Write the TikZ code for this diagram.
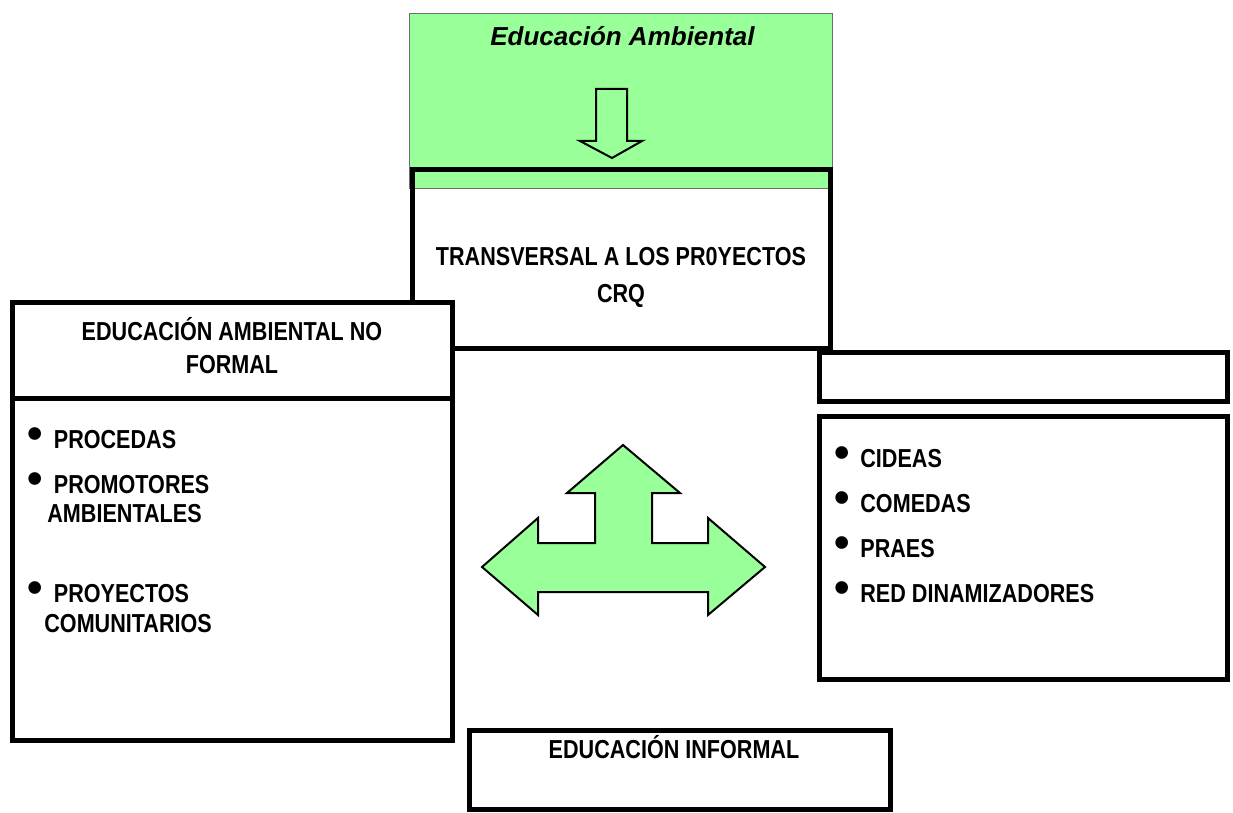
\documentclass[tikz,border=0pt]{standalone}
\usepackage{fontspec}
\setmainfont{Liberation Sans}[FakeStretch=0.83]
\newfontfamily\titlefont{Liberation Sans}
\usepackage{xcolor}
\usepackage{tikz}
\usetikzlibrary{positioning}
\definecolor{eagreen}{RGB}{153,255,153}
\definecolor{eaborder}{RGB}{110,110,110}
\newcommand{\itembul}{\llap{\raisebox{0pt}{\titlefont\fontsize{22}{22}\selectfont\textbullet}\hspace{5.4pt}}}

\begin{document}
\begin{tikzpicture}[x=0.5pt, y=-0.5pt,
  every node/.style={font=\bfseries\fontsize{13}{16.5}\selectfont},
  thickbox/.style={rectangle, draw=black, line width=2.5pt, fill=white, inner sep=0pt},
  openbox/.style={rectangle, draw=black, line width=2.5pt, inner sep=0pt},
  greenbox/.style={rectangle, draw=eaborder, line width=0.5pt, fill=eagreen, inner sep=0pt},
  head/.style={align=center, anchor=base, inner sep=0pt},
  item/.style={anchor=base west, inner sep=0pt},
  bigarrow/.style={draw=black, line width=1pt, fill=eagreen, line join=miter},
]
\useasboundingbox (0,0) rectangle (1233,813);

% top block
\node[greenbox] (ea)    at (620.5,100.75) [minimum width=211.5pt, minimum height=87.5pt] {};
\node[openbox]  (trans) at (621,259) [minimum width=209pt, minimum height=89pt] {};
\node[head, font=\titlefont\bfseries\itshape\fontsize{13}{16}\selectfont] (eatitle) at (622.5,46) {Educación Ambiental};
\node[head, font=\bfseries\fontsize{13}{18.5}\selectfont] (transtxt) at (621,302) {TRANSVERSAL A LOS PR0YECTOS\\CRQ};

% left block
\node[thickbox] (nfhead) at (232.25,350.5) [minimum width=220.25pt, minimum height=48pt] {};
\node[thickbox] (nfbody) at (232.25,569.25) [minimum width=220.25pt, minimum height=170.75pt] {};
\node[head] (nftxt) at (232,373) {EDUCACIÓN AMBIENTAL NO\\FORMAL};
\node[item] (procedas)  at (53.5,448) {\itembul PROCEDAS};
\node[item] (promotor)  at (53.5,493) {\itembul PROMOTORES};
\node[item] (promotor2) at (47,522)   {AMBIENTALES};
\node[item] (proyect)   at (53.5,602) {\itembul PROYECTOS};
\node[item] (proyect2)  at (44,632)   {COMUNITARIOS};

% right block
\node[thickbox] (fhead) at (1023.5,377) [minimum width=204pt, minimum height=24.5pt] {};
\node[thickbox] (fbody) at (1023.5,547.75) [minimum width=204pt, minimum height=131.25pt] {};
\node[item] (cideas)  at (860,467) {\itembul CIDEAS};
\node[item] (comedas) at (860,512) {\itembul COMEDAS};
\node[item] (praes)   at (860,557) {\itembul PRAES};
\node[item] (red)     at (860,602) {\itembul RED DINAMIZADORES};

% bottom block
\node[thickbox] (inf) at (679.5,770) [minimum width=210.5pt, minimum height=39.5pt] {};
\node[head] (inftxt) at (674,758) {EDUCACIÓN INFORMAL};

% arrows
\draw[bigarrow] (596,89) -- (627,89) -- (627,141) -- (642,141) -- (612,158)
  -- (580,141) -- (596,141) -- cycle;
\draw[bigarrow] (623,445) -- (680,493) -- (652,493) -- (652,543) -- (708,543)
  -- (708,518) -- (765,567) -- (708,615) -- (708,592) -- (538,592) -- (538,615)
  -- (482,567) -- (538,518) -- (538,543) -- (595,543) -- (595,493) -- (567,493) -- cycle;

\end{tikzpicture}
\end{document}
